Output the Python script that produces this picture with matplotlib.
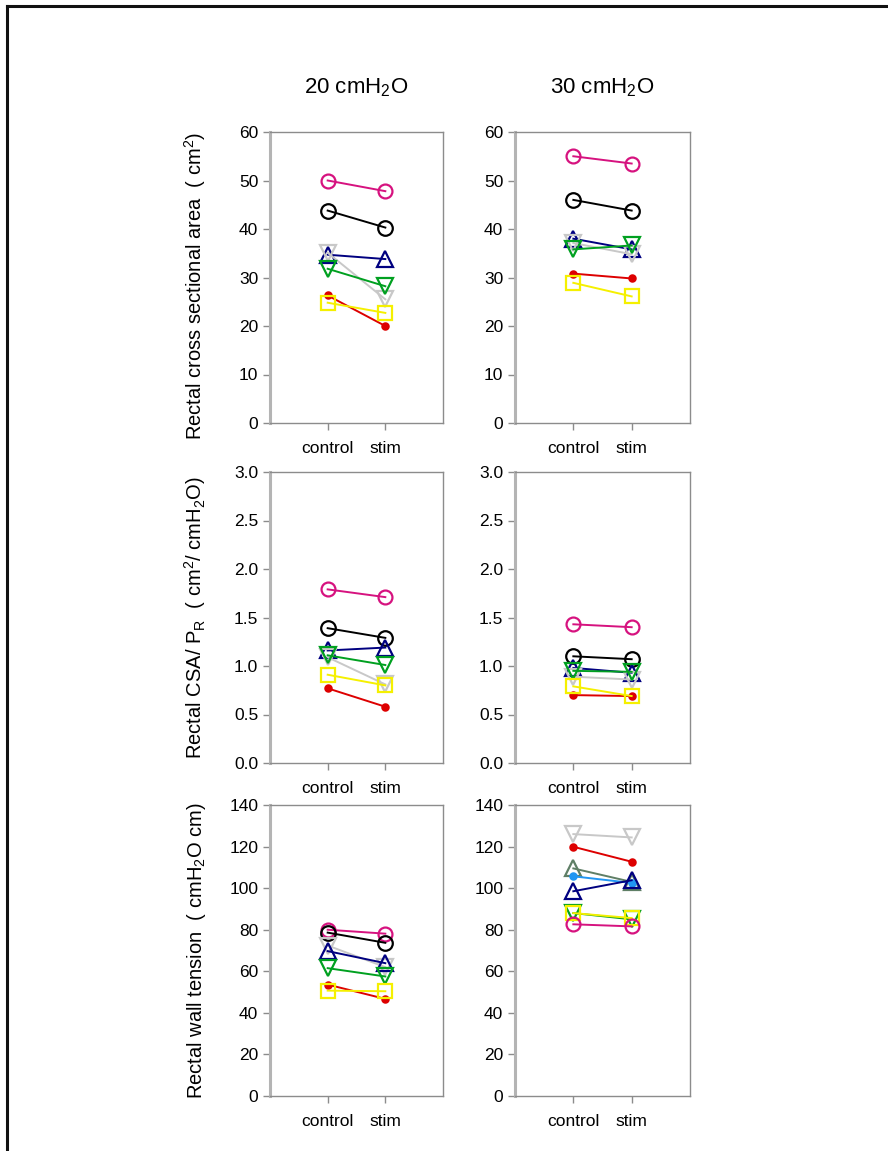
import numpy as np
import matplotlib.pyplot as plt
from matplotlib.lines import Line2D

plt.rcParams['font.family'] = ['Liberation Sans', 'DejaVu Sans']
plt.rcParams['mathtext.fontset'] = 'custom'
plt.rcParams['mathtext.rm'] = 'Liberation Sans'
plt.rcParams['mathtext.it'] = 'Liberation Sans'

conditions = ['control', 'stim']
pressures = ['20 cmH$_2$O', '30 cmH$_2$O']

# marker styles per subject: (colour, marker, marker size, filled)
styles = {
    'magenta': ('#D6127F', 'o', 10, False),
    'black':   ('#000000', 'o', 10.5, False),
    'navy':    ('#000080', '^', 11, False),
    'gray':    ('#C8C8C8', 'v', 11, False),
    'green':   ('#00A020', 'v', 11, False),
    'red':     ('#DD0000', 'o', 4.5, True),
    'yellow':  ('#F5F000', 's', 9.5, False),
    'slate':   ('#5F7F66', '^', 11, False),
    'blue':    ('#2196F3', 'o', 4.5, True),
}

# rectal cross sectional area (cm2)
csa_20 = {
    'magenta': [50.0, 47.8], 'black': [43.8, 40.3], 'navy': [34.7, 33.8],
    'gray': [35.1, 25.5], 'green': [31.8, 28.2], 'red': [26.3, 20.0],
    'yellow': [24.8, 22.7],
}
csa_30 = {
    'magenta': [55.0, 53.5], 'black': [46.0, 43.8], 'navy': [38.0, 35.8],
    'gray': [37.1, 34.8], 'green': [35.8, 36.6], 'red': [30.8, 29.8],
    'yellow': [28.9, 26.1],
}

# rectal CSA / PR (cm2 / cmH2O)
comp_20 = {
    'magenta': [1.79, 1.71], 'black': [1.39, 1.29], 'navy': [1.16, 1.19],
    'gray': [1.09, 0.81], 'green': [1.11, 1.01], 'red': [0.77, 0.58],
    'yellow': [0.91, 0.80],
}
comp_30 = {
    'magenta': [1.43, 1.40], 'black': [1.10, 1.07], 'navy': [0.98, 0.93],
    'gray': [0.89, 0.86], 'green': [0.95, 0.94], 'red': [0.70, 0.69],
    'yellow': [0.79, 0.69],
}

# rectal wall tension (cmH2O cm)
tens_20 = {
    'magenta': [80.0, 78.1], 'black': [78.6, 73.7], 'gray': [72.4, 62.0],
    'navy': [69.7, 63.9], 'green': [61.5, 57.5], 'red': [53.6, 46.7],
    'yellow': [50.7, 50.4],
}
tens_30 = {
    'gray': [126.0, 124.4], 'red': [119.9, 112.7], 'slate': [109.5, 103.0],
    'blue': [105.7, 102.5], 'navy': [98.5, 103.8], 'green': [88.0, 85.0],
    'yellow': [88.0, 85.6], 'magenta': [82.6, 81.6],
}

ylabels = ['Rectal cross sectional area  ( cm$^2$)',
           'Rectal CSA/ P$_\\mathrm{R}$  ( cm$^2$/ cmH$_2$O)',
           'Rectal wall tension  ( cmH$_2$O cm)']
label_y = [0.47, 0.5, 0.5]
yticks = [np.arange(0, 61, 10), np.arange(0, 3.01, 0.5), np.arange(0, 141, 20)]
yfmt = ['{:.0f}', '{:.1f}', '{:.0f}']
panels = [[csa_20, csa_30], [comp_20, comp_30], [tens_20, tens_30]]

W, H = 888, 1151
fig = plt.figure(figsize=(W / 100, H / 100), dpi=100)

col_left = [270, 515]
col_width = [173, 175]
row_top = [132, 472, 805]
row_h = 291

spine_col = '#8C8C8C'
xpos = [1, 2]

for r in range(3):
    for c in range(2):
        x0 = col_left[c] / W
        y0 = 1 - (row_top[r] + row_h) / H
        ax = fig.add_axes([x0, y0, col_width[c] / W, row_h / H])
        for key, vals in panels[r][c].items():
            col, mk, ms, filled = styles[key]
            ax.plot(xpos, vals, color=col, lw=1.4, marker=mk, ms=ms,
                    mfc=col if filled else 'none', mec=col, mew=1.6)
        ax.set_xlim(0, 3)
        ax.set_ylim(yticks[r][0], yticks[r][-1])
        ax.set_yticks(yticks[r])
        ax.set_yticklabels([yfmt[r].format(v) for v in yticks[r]])
        ax.set_xticks(xpos)
        ax.set_xticklabels(conditions)
        ax.tick_params(labelsize=12.5, colors='black', length=5, width=1)
        ax.tick_params(axis='both', color=spine_col)
        ax.tick_params(axis='x', pad=8)
        for s in ax.spines.values():
            s.set_color(spine_col)
            s.set_linewidth(1.0)
        ax.spines['left'].set_color('#B4B4B4')
        ax.spines['left'].set_linewidth(2.2)
        if c == 0:
            ax.set_ylabel(ylabels[r], fontsize=14.5)
            ax.yaxis.set_label_coords(-62 / col_width[c], label_y[r])
        if r == 0:
            ax.set_title(pressures[c], fontsize=16, pad=28)

# frame around the figure
fig.add_artist(Line2D([7 / W, 7 / W], [0, 1 - 6 / H], color='#111111', lw=2.2,
                      transform=fig.transFigure))
fig.add_artist(Line2D([7 / W, 1], [1 - 6 / H, 1 - 6 / H], color='#111111', lw=2.2,
                      transform=fig.transFigure))

fig.savefig('out.png', dpi=100, facecolor='white')
